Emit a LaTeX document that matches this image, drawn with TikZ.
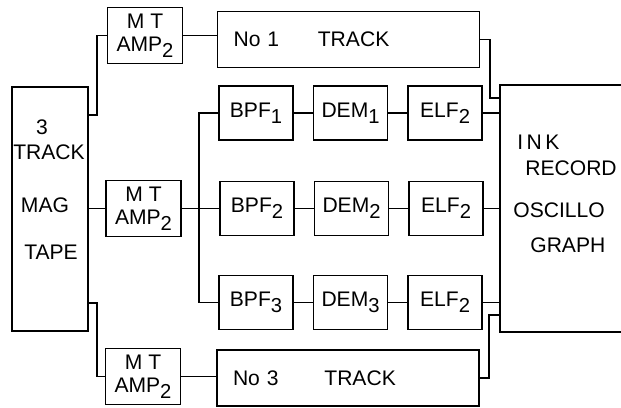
\documentclass[tikz,border=0pt]{standalone}
\usepackage{fontspec}
\setmainfont{Liberation Sans}
\usetikzlibrary{positioning}
\newcommand{\sub}[1]{\raisebox{-0.55ex}{\fontsize{11.5}{11.5}\selectfont #1}}

\begin{document}
\begin{tikzpicture}[
        x=0.02cm, y=-0.02cm,
        node distance=0.38cm,
        font=\fontsize{12}{13}\selectfont,
        block/.style={rectangle, draw, line width=0.9pt, minimum width=1.48cm,
            minimum height=1.08cm, inner sep=1pt},
        amp/.style={block, minimum width=1.5cm, minimum height=1.12cm, align=center},
        track/.style={block, minimum height=1.12cm, text width=4.6cm,
            inner xsep=0.32cm, align=left},
        lbl/.style={inner sep=0pt},
        line/.style={draw, line width=0.9pt}
    ]
    \useasboundingbox (0,0) rectangle (621,407);

    \node [block, minimum width=1.52cm, minimum height=4.88cm] (tape) at (50,209) {};
    \node [lbl] (tape3) at (42,127) {3};
    \node [lbl] (tapetrack) at (49,152) {TRACK};
    \node [lbl] (tapemag) at (45,205) {MAG};
    \node [lbl] (tapetape) at (51,252) {TAPE};

    \node [amp] (amp1) at (145,35.5) {M T\\AMP\sub{2}};
    \node [amp] (amp2) at (143.5,208.5) {M T\\AMP\sub{2}};
    \node [amp] (amp3) at (143,376.5) {M T\\AMP\sub{2}};

    \node [track] (track1) at (348.5,39.5) {No 1\hspace{22pt}TRACK};
    \node [track] (track3) at (348,378) {No 3\hspace{26pt}TRACK};

    \node [block] (bpf1) at (256,113) {BPF\sub{1}};
    \node [block, right=of bpf1] (dem1) {DEM\sub{1}};
    \node [block, right=of dem1] (elf1) {ELF\sub{2}};
    \node [block] (bpf2) at (257,208.5) {BPF\sub{2}};
    \node [block, right=of bpf2] (dem2) {DEM\sub{2}};
    \node [block, right=of dem2] (elf2) {ELF\sub{2}};
    \node [block] (bpf3) at (256,302.5) {BPF\sub{3}};
    \node [block, right=of bpf3] (dem3) {DEM\sub{3}};
    \node [block, right=of dem3] (elf3) {ELF\sub{2}};

    \node [block, minimum width=2.46cm, minimum height=4.94cm] (ink) at (561.5,208.5) {};
    \node [lbl, anchor=west] (inkink) at (517,142) {I\,N\,K};
    \node [lbl, anchor=west] (inkrecord) at (525,168) {RECORD};
    \node [lbl, anchor=west] (inkosc) at (513,210) {OSCILLO};
    \node [lbl, anchor=west] (inkgraph) at (530,245) {GRAPH};

    \coordinate (tapeA) at (0,115);
    \coordinate (tapeC) at (0,303);
    \coordinate (inkA) at (0,98);
    \coordinate (inkC) at (0,315);

    \path [line] (tape.east |- tapeA) -- ++(8,0) |- (amp1.west);
    \path [line] (tape.east |- amp2.west) -- (amp2.west);
    \path [line] (tape.east |- tapeC) -- ++(8,0) |- (amp3.west);
    \path [line] (amp1.east) -- (amp1.east -| track1.west);
    \path [line] (amp2.east) -- (bpf2.west);
    \path [line] (amp3.east) -- (amp3.east -| track3.west);
    \path [line] (bpf1.west) -- ++(-19,0) |- (bpf3.west);
    \foreach \i in {1,2,3} {
        \path [line] (bpf\i) -- (dem\i);
        \path [line] (dem\i) -- (elf\i);
        \path [line] (elf\i.east) -- (elf\i.east -| ink.west);
    }
    \path [line] (track1.east) -- ++(10,0) |- (ink.west |- inkA);
    \path [line] (track3.east) -- ++(9,0) |- (ink.west |- inkC);
\end{tikzpicture}
\end{document}
